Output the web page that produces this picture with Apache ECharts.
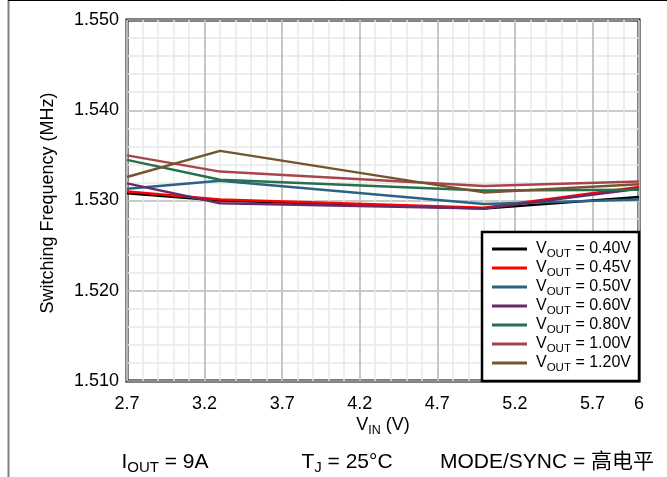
<!DOCTYPE html>
<html><head><meta charset="utf-8">
<script src="https://cdn.jsdelivr.net/npm/echarts@6/dist/echarts.min.js"></script>
<style>html,body{margin:0;padding:0;background:#fff}#c{width:667px;height:477px}</style>
</head><body><div id="c"></div>
<script>
// ---- data ----
const vin = [2.7, 3.3, 5.0, 6.0];
const seriesNames = ['0.40V', '0.45V', '0.50V', '0.60V', '0.80V', '1.00V', '1.20V'];
const v040 = [1.5308, 1.5300, 1.5291, 1.5304];
const v045 = [1.5310, 1.5301, 1.5292, 1.5315];
const v050 = [1.5313, 1.5322, 1.5296, 1.5301];
const v060 = [1.5319, 1.5297, 1.5291, 1.5313];
const v080 = [1.5345, 1.5323, 1.5311, 1.5312];
const v100 = [1.5350, 1.5332, 1.5316, 1.5321];
const v120 = [1.5326, 1.5355, 1.5309, 1.5318];
const xMin = 2.7, xMax = 6, xStep = 0.5;
const yMin = 1.51, yMax = 1.55, yStep = 0.01;
// ---- styles ----
const values = [v040, v045, v050, v060, v080, v100, v120];
const colors = ['#000000', '#ff0000', '#2b6482', '#6a2a6a', '#26704e', '#a8454b', '#74552e'];
const FONT = 'Liberation Sans, Arial, sans-serif';

const chart = echarts.init(document.getElementById('c'), null, {renderer: 'canvas'});
const legRich = {
  m: {fontSize: 16, fontFamily: FONT, color: '#000', lineHeight: 16},
  s: {fontSize: 11.5, fontFamily: FONT, color: '#000', lineHeight: 9, padding: [7, 0, 0, 0], verticalAlign: 'top'}
};
const nameRich = {
  m: {fontSize: 18, fontFamily: FONT, color: '#000', lineHeight: 20},
  s: {fontSize: 12.5, fontFamily: FONT, color: '#000', lineHeight: 11, padding: [9, 0, 0, 0], verticalAlign: 'top'}
};
const bigRich = {
  m: {fontSize: 21, fontFamily: FONT, color: '#000', lineHeight: 22},
  s: {fontSize: 15, fontFamily: FONT, color: '#000', lineHeight: 13, padding: [9, 0, 0, 0], verticalAlign: 'top'}
};

const option = {
  animation: false,
  backgroundColor: '#fff',
  grid: {left: 127, right: 28, top: 20, bottom: 96, show: true, borderColor: '#000', borderWidth: 3, backgroundColor: 'transparent'},
  xAxis: [{
    type: 'value', min: xMin, max: xMax, interval: xStep, z: 1,
    axisLine: {show: false}, axisTick: {show: false},
    axisLabel: {fontSize: 18, fontFamily: FONT, color: '#000', margin: 14,
      formatter: v => (Math.abs(v - Math.round(v)) < 1e-9 ? String(Math.round(v)) : v.toFixed(1))},
    splitLine: {show: true, lineStyle: {color: '#b8b8b8', width: 1.5}}
  }, {
    type: 'value', min: xMin, max: xMax, interval: 0.1, z: 0,
    axisLine: {show: false}, axisTick: {show: false}, axisLabel: {show: false},
    splitLine: {show: true, lineStyle: {color: '#e8e8e8', width: 1.5}}
  }],
  yAxis: {
    type: 'value', min: yMin, max: yMax, interval: yStep,
    axisLine: {show: false}, axisTick: {show: false},
    axisLabel: {fontSize: 18, fontFamily: FONT, color: '#000', margin: 8, formatter: v => v.toFixed(3)},
    splitLine: {show: true, lineStyle: {color: '#b8b8b8', width: 1.5}},
    minorTick: {show: false, splitNumber: 5},
    minorSplitLine: {show: true, lineStyle: {color: '#e8e8e8', width: 1.5}}
  },
  legend: {
    orient: 'vertical', right: 28, bottom: 96,
    backgroundColor: '#fff', borderColor: '#000', borderWidth: 2.5,
    padding: [9, 8, 7, 10], itemGap: 0, itemWidth: 35, itemHeight: 3, icon: 'rect',
    data: seriesNames,
    formatter: n => '{m|V}{s|OUT}{m| = ' + n + '}',
    textStyle: {rich: legRich, padding: [0, 0, 0, 4]}
  },
  series: seriesNames.map((n, i) => ({
    name: n, type: 'line', xAxisIndex: 0, symbol: 'none', color: colors[i],
    lineStyle: {width: 2.5, color: colors[i]},
    data: vin.map((x, k) => [x, values[i][k]])
  })),
  graphic: [
    {type: 'line', shape: {x1: 8.5, y1: 0, x2: 8.5, y2: 477}, style: {stroke: '#808080', lineWidth: 2}},
    {type: 'line', shape: {x1: 8, y1: 0.5, x2: 667, y2: 0.5}, style: {stroke: '#000', lineWidth: 1}},
    {type: 'text', x: 48, y: 203, rotation: Math.PI / 2,
      style: {text: 'Switching Frequency (MHz)', font: '18px ' + FONT, fill: '#000', align: 'center', verticalAlign: 'middle'}},
    {type: 'text', x: 383, y: 425,
      style: {text: '{m|V}{s|IN}{m| (V)}', rich: nameRich, align: 'center', verticalAlign: 'middle', fill: '#000'}},
    {type: 'text', x: 165, y: 462,
      style: {text: '{m|I}{s|OUT}{m| = 9A}', rich: bigRich, align: 'center', verticalAlign: 'middle', fill: '#000'}},
    {type: 'text', x: 347, y: 462,
      style: {text: '{m|T}{s|J}{m| = 25°C}', rich: bigRich, align: 'center', verticalAlign: 'middle', fill: '#000'}},
    {type: 'text', x: 440, y: 462,
      style: {text: 'MODE/SYNC = 高电平', font: '21px ' + FONT + ', Noto Sans CJK SC', fill: '#000', align: 'left', verticalAlign: 'middle'}}
  ]
};
chart.setOption(option);
</script></body></html>
